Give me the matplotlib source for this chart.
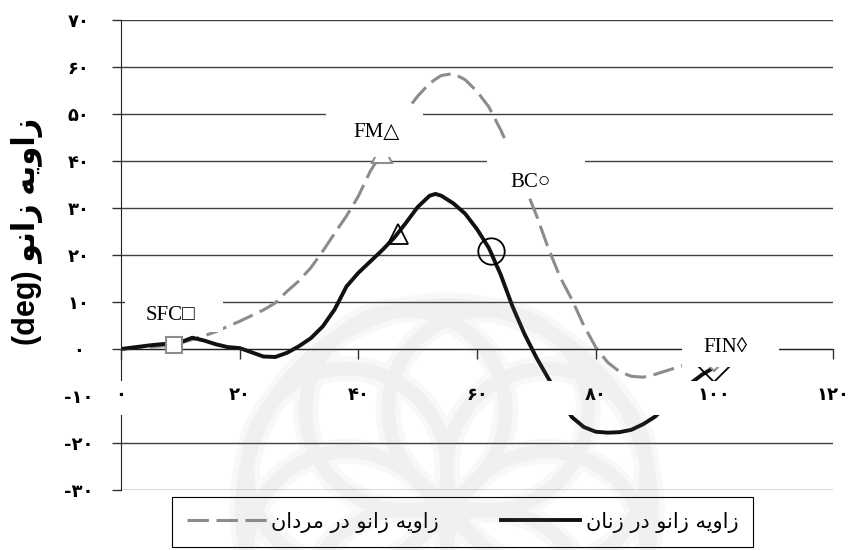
import numpy as np
import matplotlib.pyplot as plt
from matplotlib.patches import Rectangle, PathPatch
from matplotlib.path import Path
from matplotlib.transforms import IdentityTransform

# percent of gait cycle and knee angle (deg)
pct = [0, 2.5, 5, 7.5, 9, 10, 12, 14, 16, 18, 20, 22, 24, 26, 28, 30, 32, 34, 36, 38,
       40, 42, 44, 46, 48, 50, 52, 53, 54, 56, 58, 60, 62, 64, 66, 68, 70, 72, 74, 76,
       78, 80, 82, 84, 86, 88, 90, 92, 94, 96, 98, 100]
knee_women = [0, 0.4, 0.8, 1.1, 1.2, 1.4, 2.4, 1.8, 1.0, 0.4, 0.2, -0.7, -1.6, -1.7, -0.8, 0.6,
              2.3, 4.8, 8.4, 13.3, 16.2, 18.6, 21.0, 23.6, 26.8, 30.2, 32.6, 33.0, 32.6, 31.0,
              28.8, 25.5, 21.5, 15.8, 9.0, 3.2, -1.8, -6.2, -10.5, -14.5, -16.6, -17.6, -17.8,
              -17.7, -17.2, -16.0, -14.4, -12.0, -9.5, -7.3, -5.4, -3.9]
knee_men = [0, 0.2, 0.4, 0.7, 0.9, 1.3, 2.0, 2.8, 3.7, 4.8, 5.9, 7.1, 8.3, 9.8, 12.3, 14.5,
            17.3, 20.8, 24.6, 28.3, 32.5, 37.8, 41.8, 46.5, 50.5, 53.8, 56.5, 57.4, 58.2, 58.6,
            57.3, 54.8, 51.5, 46.6, 41.0, 34.8, 28.5, 21.5, 15.3, 10.5, 5.0, 0.4, -2.8, -4.8,
            -5.8, -6.0, -5.4, -4.6, -3.8, -3.0, -2.3, -1.6]

# gait events: SFC, FM, BC, FIN
event_names = ['SFC□', 'FM△', 'BC○', 'FIN◊']
men_event_x = [9, 44, 68, 100]
men_event_y = [0.9, 41.8, 34.8, -1.6]
women_event_x = [9, 46.7, 62.3, 100]
women_event_y = [0.9, 24.4, 20.8, -3.9]

x_ticks = [0, 20, 40, 60, 80, 100, 120]
y_ticks = [-30, -20, -10, 0, 10, 20, 30, 40, 50, 60, 70]

men_label = 'زاویه زانو در مردان'
women_label = 'زاویه زانو در زنان'
axis_label = 'زاویه زانو'

# contextual forms: isolated, final, initial, medial
FORMS = {
    'ا': ('\uFE8D', '\uFE8E', None, None),
    'د': ('\uFEA9', '\uFEAA', None, None),
    'ر': ('\uFEAD', '\uFEAE', None, None),
    'ز': ('\uFEAF', '\uFEB0', None, None),
    'و': ('\uFEED', '\uFEEE', None, None),
    'ن': ('\uFEE5', '\uFEE6', '\uFEE7', '\uFEE8'),
    'م': ('\uFEE1', '\uFEE2', '\uFEE3', '\uFEE4'),
    'ه': ('\uFEE9', '\uFEEA', '\uFEEB', '\uFEEC'),
    'ی': ('\uFBFC', '\uFBFD', '\uFBFE', '\uFBFF'),
}


def fa(text):
    # shape persian letters and reverse them for left-to-right drawing
    out = []
    for i, ch in enumerate(text):
        if ch not in FORMS:
            out.append(ch)
            continue
        prev = text[i - 1] if i > 0 else ' '
        nxt = text[i + 1] if i + 1 < len(text) else ' '
        join_prev = prev in FORMS and FORMS[prev][2] is not None
        join_next = FORMS[ch][2] is not None and nxt in FORMS
        iso, fin, ini, med = FORMS[ch]
        if join_prev and join_next:
            out.append(med)
        elif join_prev:
            out.append(fin)
        elif join_next:
            out.append(ini)
        else:
            out.append(iso)
    return ''.join(out)[::-1]


def fa_num(n):
    s = str(abs(n)).translate(str.maketrans('0123456789', '۰۱۲۳۴۵۶۷۸۹'))
    return ('-' + s) if n < 0 else s


fig = plt.figure(figsize=(8.55, 5.5), dpi=100)
ax = fig.add_axes([121 / 855, 1 - 490 / 550, 712 / 855, 470 / 550])
ax.set_xlim(0, 120)
ax.set_ylim(-30, 70)

ax.spines['top'].set_visible(False)
ax.spines['right'].set_visible(False)
ax.spines['bottom'].set_position(('data', 0))
ax.spines['left'].set_color('#202020')
ax.spines['bottom'].set_color('#202020')

ax.set_xticks(x_ticks)
ax.set_xticklabels([fa_num(v) for v in x_ticks], fontsize=13, fontweight='bold')
ax.set_yticks(y_ticks)
ax.set_yticklabels([fa_num(v) for v in y_ticks], fontsize=13, fontweight='bold')
for lab in ax.get_yticklabels():
    lab.set_horizontalalignment('center')
ax.tick_params(axis='x', direction='out', length=7, width=1, color='#303030', pad=20)
ax.tick_params(axis='y', direction='out', length=6.5, width=1, color='#303030', pad=24)
ax.yaxis.grid(True, color='#404040', linewidth=1.0)
ax.yaxis.set_zorder(1.5)
ax.xaxis.set_zorder(3.7)

men_line, = ax.plot(pct, knee_men, color='#8c8c8c', linewidth=2.2,
                    dashes=(7, 2.5), zorder=2)
women_line, = ax.plot(pct, knee_women, color='#111111', linewidth=2.8, zorder=2.2)

markers = ['s', '^', 'o', 'D']
men_sizes = [11, 14, 12, 14]
women_sizes = [11, 14, 19, 15]
for i in range(4):
    ax.plot(women_event_x[i], women_event_y[i], marker=markers[i], markersize=women_sizes[i],
            markerfacecolor='none', markeredgecolor='black', markeredgewidth=1.3,
            linestyle='none', zorder=2.4, clip_on=False)
    ax.plot(men_event_x[i], men_event_y[i], marker=markers[i], markersize=men_sizes[i],
            markerfacecolor='white', markeredgecolor='#8c8c8c', markeredgewidth=1.5,
            linestyle='none', zorder=2.6, clip_on=False)

# white band behind the x tick labels
ax.add_patch(Rectangle((-0.02, -14.1), 1.06, 7.3, transform=ax.get_yaxis_transform(),
                       facecolor='white', edgecolor='none', zorder=3.5, clip_on=False))

# event labels on white boxes
label_pos = [(8.4, 6.2), (43.0, 45.0), (69.0, 34.5), (101.9, -0.6)]
label_box = [(0.7, 3.6, 16.5, 7.9), (34.5, 40.9, 16.4, 10.7),
             (61.7, 32.4, 16.5, 11.7), (94.5, -3.8, 16.4, 9.1)]
for name, (tx, ty), (bx, by, bw, bh) in zip(event_names, label_pos, label_box):
    ax.add_patch(Rectangle((bx, by), bw, bh, facecolor='white', edgecolor='none',
                           zorder=4, clip_on=False))
    ax.text(tx, ty, name, ha='center', va='baseline', fontsize=15, zorder=4.1,
            family=['Liberation Serif', 'DejaVu Sans'])

fig.text(27 / 855, 1 - 231 / 550, '(deg) ' + fa(axis_label), rotation=90,
         ha='center', va='center', fontsize=22, fontweight='bold',
         family=['Liberation Sans', 'DejaVu Sans'])

leg = fig.legend([men_line, women_line], [fa(men_label), fa(women_label)],
                 loc='upper left', bbox_to_anchor=(172 / 855, 1 - 497 / 550), ncol=2,
                 frameon=True, fancybox=False, edgecolor='black', framealpha=1,
                 prop={'family': 'DejaVu Sans', 'size': 15}, handlelength=3.8,
                 handletextpad=0.25, columnspacing=3.0, borderpad=0.7, borderaxespad=0)
leg.get_frame().set_linewidth(0.8)

# faint rosette stamp over the lower middle, stroked as one path so overlaps stay even
cx, cy = 447, 550 - 510
rings = [Path.circle((cx, cy), 205)]
for ang in np.arange(22.5, 360, 45):
    rings.append(Path.circle((cx + 108 * np.cos(np.radians(ang)),
                              cy + 108 * np.sin(np.radians(ang))), 100))
stamp = Path.make_compound_path(*rings)
for lw, alpha in [(18, 0.05), (10, 0.06)]:
    fig.add_artist(PathPatch(stamp, transform=IdentityTransform(), fill=False,
                             edgecolor='#7a7a7a', linewidth=lw, alpha=alpha, zorder=10))

fig.savefig('out.png', dpi=100)
